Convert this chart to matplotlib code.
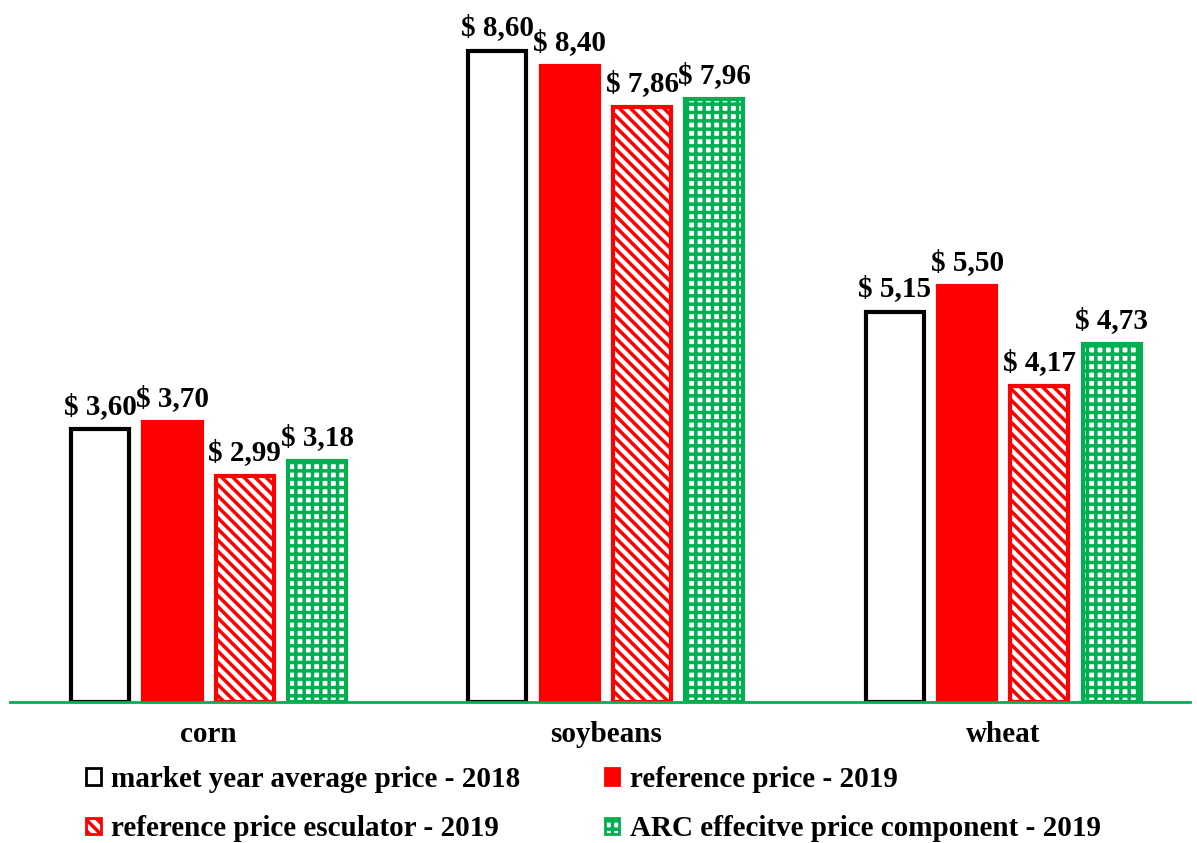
import numpy as np
import matplotlib.pyplot as plt
from matplotlib.patches import Patch

plt.rcParams['font.family'] = ['Liberation Serif', 'DejaVu Serif']
plt.rcParams['font.weight'] = 'bold'
plt.rcParams['hatch.linewidth'] = 2.5

crops = ['corn', 'soybeans', 'wheat']
series = ['market year average price - 2018', 'reference price - 2019',
          'reference price esculator - 2019', 'ARC effecitve price component - 2019']
market_2018 = [3.60, 8.60, 5.15]
reference_2019 = [3.70, 8.40, 5.50]
escalator_2019 = [2.99, 7.86, 4.17]
arc_2019 = [3.18, 7.96, 4.73]

values = [market_2018, reference_2019, escalator_2019, arc_2019]
styles = [
    dict(facecolor='white', edgecolor='black', hatch=None),
    dict(facecolor='#FF0000', edgecolor='#FF0000', hatch=None),
    dict(facecolor='white', edgecolor='#FF0000', hatch='\\\\\\'),
    dict(facecolor='white', edgecolor='#00B050', hatch='++'),
]

fig = plt.figure(figsize=(11.97, 8.43), dpi=100)
ax = fig.add_axes([10 / 1197, 141 / 843, 1180 / 1197, 680 / 843])

x = np.arange(len(crops))
slot = 0.182
width = 0.146
for i, (vals, st) in enumerate(zip(values, styles)):
    pos = x + (i - 1.5) * slot
    bars = ax.bar(pos, vals, width, facecolor=st['facecolor'], edgecolor=st['edgecolor'],
                  hatch=st['hatch'], linewidth=3, zorder=2)
    for b, v in zip(bars, vals):
        ax.annotate('\\$ ' + f'{v:.2f}'.replace('.', ','),
                    (b.get_x() + b.get_width() / 2, v), xytext=(0, 7),
                    textcoords='offset points', ha='center', va='bottom',
                    fontsize=21, fontweight='bold')

ax.set_xlim(-0.5, 2.47)
ax.set_ylim(0, 8.98)
for s in ['top', 'right', 'left']:
    ax.spines[s].set_visible(False)
ax.spines['bottom'].set_color('#00B050')
ax.spines['bottom'].set_linewidth(2)
ax.set_yticks([])
ax.set_xticks(x)
ax.set_xticklabels(crops, fontsize=21, fontweight='bold')
ax.tick_params(axis='x', length=0, pad=14)

handles = [Patch(facecolor=st['facecolor'], edgecolor=st['edgecolor'], hatch=st['hatch'],
                 linewidth=2) for st in styles]
order = [0, 2, 1, 3]
fig.legend([handles[k] for k in order], [series[k] for k in order],
           loc='upper left', bbox_to_anchor=(0.05, 0.123), ncol=2,
           frameon=False, handlelength=0.5, handleheight=0.5,
           handletextpad=0.35, columnspacing=2.9, labelspacing=0.78,
           prop={'family': 'Liberation Serif', 'weight': 'bold', 'size': 21})

fig.savefig('out.png', dpi=100)
